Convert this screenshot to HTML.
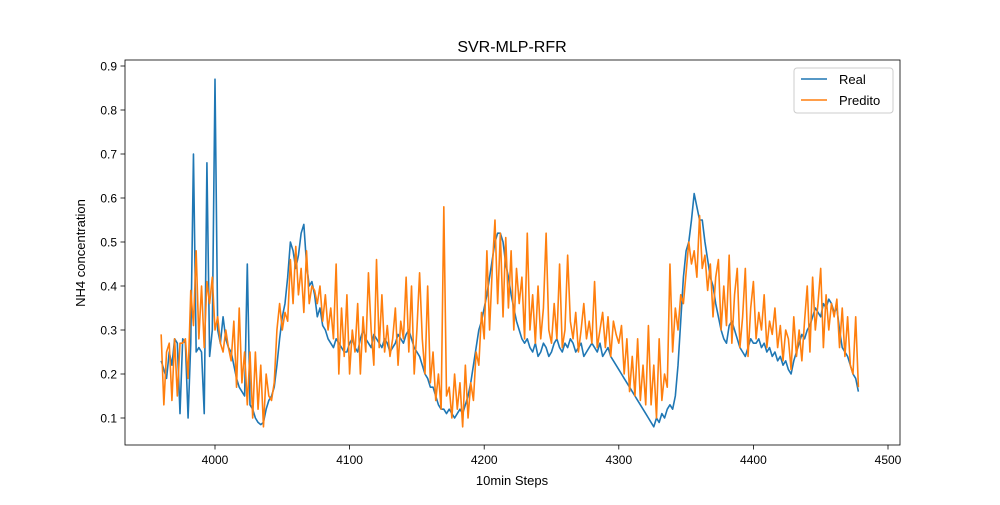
<!DOCTYPE html>
<html><head><meta charset="utf-8"><style>
body{margin:0;background:#fff}
svg text{font-family:"Liberation Sans","DejaVu Sans",sans-serif;fill:#000}
</style></head><body>
<svg id="chart" width="1000" height="500" viewBox="0 0 1000 500" xmlns="http://www.w3.org/2000/svg">
<rect width="1000" height="500" fill="#fff"/>
<text x="512" y="52" font-size="16" text-anchor="middle">SVR-MLP-RFR</text>
<g id="xticks"></g>
<g id="yticks"></g>
<g id="series"></g>
<rect x="125" y="60" width="775" height="385" fill="none" stroke="#000" stroke-width="0.8"/>
<text x="512" y="485" font-size="13" text-anchor="middle">10min Steps</text>
<text x="85" y="253" font-size="13" text-anchor="middle" transform="rotate(-90 85 253)">NH4 concentration</text>
<g>
<rect x="794" y="68" width="99" height="45" fill="#fff" stroke="#ccc" rx="3"/>
<line x1="801" y1="79" x2="827" y2="79" stroke="#1f77b4" stroke-width="1.6"/>
<text x="839" y="84" font-size="13">Real</text>
<line x1="801" y1="100" x2="827" y2="100" stroke="#ff7f0e" stroke-width="1.6"/>
<text x="839" y="105" font-size="13">Predito</text>
</g>
</svg>
<script>
const startStep = 3960;
const stepSize = 2;
const xTickValues = [4000, 4100, 4200, 4300, 4400, 4500];
const yTickValues = [0.1, 0.2, 0.3, 0.4, 0.5, 0.6, 0.7, 0.8, 0.9];
const realValues = [
.23,.21,.19,.25,.22,.28,.27,.11,.28,.27,.10,.27,.70,.25,.26,.25,.11,.68,.24,.30,.87,
.30,.27,.33,.28,.26,.25,.22,.19,.17,.16,.15,.45,.13,.12,.10,.09,.085,.09,.12,.14,
.15,.17,.22,.28,.33,.36,.42,.50,.48,.44,.47,.52,.54,.45,.40,.41,.38,.33,.35,.31,
.30,.28,.27,.26,.28,.27,.26,.25,.25,.27,.28,.26,.25,.28,.30,.28,.27,.26,.29,.28,
.27,.26,.28,.27,.25,.26,.27,.29,.28,.27,.29,.30,.28,.26,.25,.24,.22,.20,.19,.17,
.17,.15,.13,.12,.12,.11,.12,.11,.10,.11,.12,.11,.13,.15,.18,.22,.26,.30,.32,.35,
.38,.42,.46,.50,.52,.52,.50,.45,.42,.38,.35,.32,.30,.28,.27,.28,.26,.25,.27,.24,
.25,.27,.26,.24,.25,.27,.28,.26,.25,.27,.26,.28,.27,.25,.26,.27,.24,.25,.26,.27,
.26,.25,.27,.24,.25,.26,.24,.23,.22,.21,.20,.19,.18,.17,.16,.15,.14,.13,.12,.11,
.10,.09,.08,.10,.09,.11,.10,.12,.13,.12,.15,.22,.32,.42,.48,.50,.55,.61,.58,.55,
.55,.50,.46,.42,.40,.36,.33,.30,.28,.27,.31,.32,.30,.28,.26,.25,.24,.26,.28,.27,
.27,.28,.26,.27,.25,.26,.24,.25,.23,.24,.22,.23,.21,.20,.23,.25,.27,.29,.28,.30,
.31,.33,.35,.34,.33,.36,.35,.37,.36,.34,.35,.30,.26,.25,.24,.22,.20,.19,.16];
const predValues = [
.29,.13,.25,.27,.14,.28,.15,.27,.27,.28,.19,.39,.31,.48,.28,.40,.26,.41,.36,.42,.30,
.33,.27,.25,.30,.26,.23,.32,.17,.35,.18,.25,.13,.25,.10,.25,.12,.22,.08,.20,.15,
.14,.18,.30,.36,.30,.34,.32,.46,.36,.49,.38,.44,.34,.48,.36,.40,.39,.36,.40,.32,
.38,.30,.35,.28,.45,.20,.35,.24,.38,.20,.30,.25,.36,.20,.33,.25,.43,.30,.22,.46,
.26,.38,.25,.31,.24,.28,.35,.22,.32,.28,.42,.25,.40,.20,.30,.43,.28,.20,.40,.18,
.25,.14,.20,.12,.58,.15,.17,.10,.20,.12,.18,.08,.22,.10,.18,.14,.25,.22,.34,.28,
.48,.30,.44,.55,.36,.52,.33,.51,.35,.48,.30,.44,.36,.42,.28,.52,.30,.38,.27,.40,
.28,.35,.52,.30,.27,.36,.28,.45,.26,.30,.47,.32,.28,.34,.25,.30,.36,.28,.32,.27,
.41,.26,.30,.34,.26,.33,.24,.32,.29,.27,.31,.20,.28,.16,.24,.15,.28,.14,.22,.13,
.31,.13,.22,.10,.28,.14,.20,.17,.45,.25,.35,.30,.38,.36,.43,.50,.45,.48,.42,.56,
.44,.47,.39,.45,.33,.42,.46,.30,.40,.31,.47,.27,.38,.44,.26,.33,.44,.24,.35,.41,
.28,.34,.30,.38,.26,.32,.29,.35,.26,.31,.23,.30,.28,.21,.33,.24,.30,.23,.32,.40,
.25,.42,.30,.36,.44,.26,.38,.30,.36,.33,.37,.26,.35,.24,.33,.22,.20,.33,.17];

const NS = "http://www.w3.org/2000/svg";
function xScale(v){ return 215 + (v - 4000) * 1.346; }
function yScale(v){ return 462 - v * 440; }

const xg = document.getElementById('xticks');
xTickValues.forEach(t => {
  const x = xScale(t);
  const l = document.createElementNS(NS,'line');
  
  
  l.setAttribute('x1',x); l.setAttribute('x2',x); l.setAttribute('y1',445); l.setAttribute('y2',449.5);
  l.setAttribute('stroke','#000'); l.setAttribute('stroke-width','0.8');
  xg.appendChild(l);
  const tx = document.createElementNS(NS,'text');
  
  
  tx.setAttribute('x',x); tx.setAttribute('y',464); tx.setAttribute('font-size','12'); tx.setAttribute('text-anchor','middle');
  tx.textContent = t;
  xg.appendChild(tx);
});
const yg = document.getElementById('yticks');
yTickValues.forEach(t => {
  const y = yScale(t);
  const l = document.createElementNS(NS,'line');
  
  
  l.setAttribute('x1',120.5); l.setAttribute('x2',125); l.setAttribute('y1',y); l.setAttribute('y2',y);
  l.setAttribute('stroke','#000'); l.setAttribute('stroke-width','0.8');
  yg.appendChild(l);
  const tx = document.createElementNS(NS,'text');
  
  
  tx.setAttribute('x',117); tx.setAttribute('y',y+4.5); tx.setAttribute('font-size','12'); tx.setAttribute('text-anchor','end');
  tx.textContent = t.toFixed(1);
  yg.appendChild(tx);
});
function pathFor(vals){
  return vals.map((v,i)=> (i?'L':'M') + xScale(startStep + i*stepSize).toFixed(2) + ',' + yScale(v).toFixed(2)).join(' ');
}
const sg = document.getElementById('series');
const p1 = document.createElementNS(NS,'path');


p1.setAttribute('d', pathFor(realValues));
p1.setAttribute('fill','none'); p1.setAttribute('stroke','#1f77b4'); p1.setAttribute('stroke-width','1.6'); p1.setAttribute('stroke-linejoin','round');
sg.appendChild(p1);
const p2 = document.createElementNS(NS,'path');


p2.setAttribute('d', pathFor(predValues));
p2.setAttribute('fill','none'); p2.setAttribute('stroke','#ff7f0e'); p2.setAttribute('stroke-width','1.6'); p2.setAttribute('stroke-linejoin','round');
sg.appendChild(p2);
</script>
</body></html>
